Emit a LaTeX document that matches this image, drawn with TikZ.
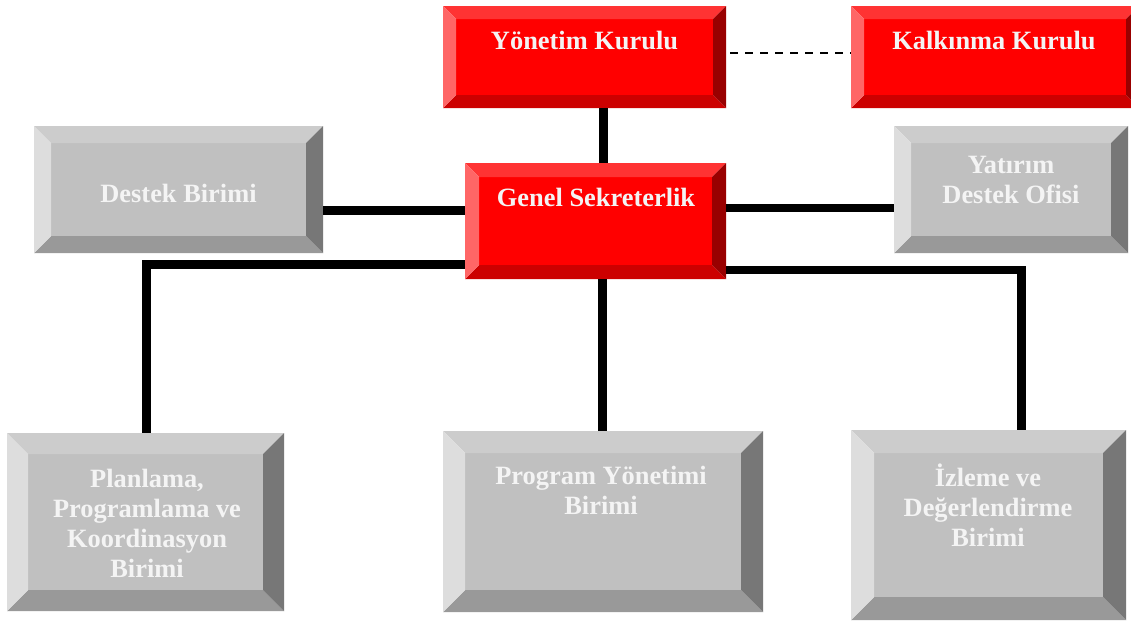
\documentclass[tikz,border=0pt]{standalone}
\usepackage{fontspec}
\setmainfont{Liberation Serif}
\usetikzlibrary{calc}
\definecolor{rT}{HTML}{FF3333}
\definecolor{rL}{HTML}{FF6666}
\definecolor{rR}{HTML}{990000}
\definecolor{rB}{HTML}{CC0000}
\definecolor{rM}{HTML}{FF0000}
\definecolor{gT}{HTML}{CCCCCC}
\definecolor{gL}{HTML}{DDDDDD}
\definecolor{gR}{HTML}{777777}
\definecolor{gB}{HTML}{999999}
\definecolor{gM}{HTML}{C0C0C0}
\definecolor{txt}{HTML}{F4F4F4}
\newcommand\bevbox[7]{%
  \fill[#7M] (#2+#6,#3+#6) rectangle (#4-#6,#5-#6);
  \fill[#7T] (#2,#3) -- (#4,#3) -- (#4-#6,#3+#6) -- (#2+#6,#3+#6) -- cycle;
  \fill[#7B] (#2,#5) -- (#4,#5) -- (#4-#6,#5-#6) -- (#2+#6,#5-#6) -- cycle;
  \fill[#7L] (#2,#3) -- (#2+#6,#3+#6) -- (#2+#6,#5-#6) -- (#2,#5) -- cycle;
  \fill[#7R] (#4,#3) -- (#4-#6,#3+#6) -- (#4-#6,#5-#6) -- (#4,#5) -- cycle;
  \node[inner sep=0pt, minimum width={(#4-#2)*1pt}, minimum height={(#5-#3)*1pt}] (#1) at ({(#2+#4)/2},{(#3+#5)/2}) {};
}
\tikzset{
  lbl/.style={text=txt, font=\fontsize{26.4}{30}\selectfont\bfseries, align=center, inner sep=0pt},
  conn/.style={line width=8.5pt, black, line join=miter},
  dashline/.style={line width=2pt, black, dash pattern=on 8pt off 7pt}
}
\begin{document}
\begin{tikzpicture}[x=1pt,y=-1pt]
\useasboundingbox (0,0) rectangle (1131,621);
\clip (0,0) rectangle (1131,621);
\fill[white] (0,0) rectangle (1131,621);

\bevbox{yk}{443}{6}{726}{108}{13}{r}
\bevbox{kk}{851}{6}{1139}{108}{13}{r}
\bevbox{gs}{465}{163}{726}{279}{14}{r}
\bevbox{db}{34}{126}{323}{253}{17}{g}
\bevbox{yd}{894}{126}{1128}{253}{17}{g}
\bevbox{pp}{7}{433}{284}{611}{21}{g}
\bevbox{py}{443}{431}{763}{612}{22}{g}
\bevbox{iz}{851}{430}{1126}{620}{23}{g}

\node[lbl] (t1) at (584.5,41) {Yönetim Kurulu};
\node[lbl] (t2) at (994,41) {Kalkınma Kurulu};
\node[lbl] (t3) at (596,197) {Genel Sekreterlik};
\node[lbl] (t4) at (178.5,193.5) {Destek Birimi};
\node[lbl] (t5) at (1011,179.5) {Yatırım\\Destek Ofisi};
\node[lbl] (t6) at (147,523) {Planlama,\\Programlama ve\\Koordinasyon\\Birimi};
\node[lbl] (t7) at (601,490) {Program Yönetimi\\Birimi};
\node[lbl] (t8) at (988,505) {İzleme ve\\Değerlendirme\\Birimi};

\coordinate (v1) at (603.5,0);
\coordinate (v2) at (602.5,0);
\coordinate (vl) at (146.5,0);
\coordinate (vr) at (1021.5,0);
\coordinate (h1) at (0,210.5);
\coordinate (h2) at (0,208);
\coordinate (h3) at (0,264.5);
\coordinate (h4) at (0,270);
\coordinate (hd) at (0,53);

\draw[conn] (yk.south -| v1) -- (gs.north -| v1);
\draw[conn] (db.east |- h1) -- (gs.west |- h1);
\draw[conn] (gs.east |- h2) -- (yd.west |- h2);
\draw[conn] (gs.west |- h3) -| (pp.north -| vl);
\draw[conn] (gs.south -| v2) -- (py.north -| v2);
\draw[conn] (gs.east |- h4) -| (iz.north -| vr);
\draw[dashline, shorten <=4pt] (yk.east |- hd) -- (kk.west |- hd);
\end{tikzpicture}
\end{document}
